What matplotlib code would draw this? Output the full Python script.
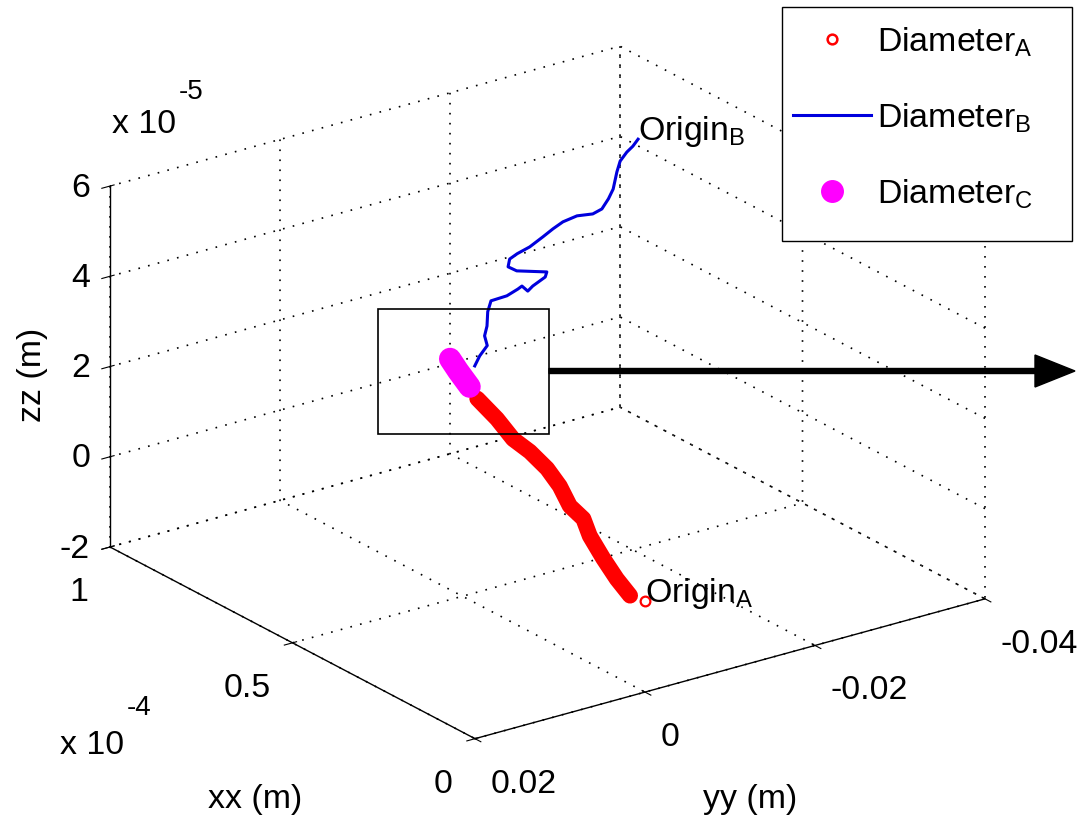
import numpy as np
import matplotlib
matplotlib.use('Agg')
import matplotlib.pyplot as plt
from matplotlib.lines import Line2D
from matplotlib.patches import Rectangle, FancyArrow
from matplotlib.transforms import IdentityTransform

plt.rcParams['font.family'] = ['Liberation Sans', 'DejaVu Sans']
plt.rcParams['mathtext.fontset'] = 'custom'
plt.rcParams['mathtext.rm'] = 'Liberation Sans'
plt.rcParams['mathtext.it'] = 'Liberation Sans:italic'
plt.rcParams['mathtext.bf'] = 'Liberation Sans:bold'
plt.rcParams['grid.color'] = 'k'
plt.rcParams['grid.linewidth'] = 1.2
plt.rcParams['grid.linestyle'] = (0, (1, 5))

# ---------------- data ----------------
# Diameter A (red markers), from Origin A to the junction
xa = np.array([0.00, 0.02, 0.04, 0.07, 0.10, 0.12, 0.15, 0.18, 0.21, 0.25, 0.28, 0.31, 0.35]) * 1e-4
ya = np.array([0.0000, 0.0009, 0.0016, 0.0019, 0.0022, 0.0021, 0.0024, 0.0023, 0.0025, 0.0028, 0.0035, 0.0041, 0.0047])
za = np.array([0.02, 0.10, 0.42, 0.76, 1.15, 1.44, 1.61, 1.92, 2.19, 2.41, 2.60, 2.95, 3.26]) * 1e-5

# Diameter B (blue line), from the junction to Origin B
xb = np.array([0.350, 0.355, 0.360, 0.365, 0.370, 0.375, 0.380, 0.390, 0.395, 0.400, 0.405,
               0.410, 0.420, 0.425, 0.440, 0.445, 0.450, 0.455, 0.465, 0.475, 0.485, 0.495,
               0.510, 0.525, 0.535, 0.545, 0.560, 0.580, 0.620, 0.660, 0.690, 0.720]) * 1e-4
yb = np.array([0.0050, 0.0042, 0.0031, 0.0032, 0.0027, 0.0024, 0.0018, -0.0005, -0.0020, -0.0027, -0.0036,
               -0.0044, -0.0063, -0.0067, -0.0038, -0.0030, -0.0034, -0.0045, -0.0064, -0.0084, -0.0100, -0.0116,
               -0.0139, -0.0164, -0.0179, -0.0191, -0.0203, -0.0216, -0.0237, -0.0262, -0.0282, -0.0301])
zb = np.array([4.00, 4.16, 4.31, 4.51, 4.68, 4.96, 5.15, 5.10, 5.15, 5.16, 4.98,
               5.03, 5.09, 5.16, 5.27, 5.38, 5.51, 5.55, 5.56, 5.64, 5.69, 5.72,
               5.67, 5.52, 5.51, 5.63, 5.72, 5.95, 5.91, 5.81, 5.71, 5.64]) * 1e-5

# Diameter C (magenta markers)
xc = np.array([0.350, 0.370, 0.385]) * 1e-4
yc = np.array([0.0056, 0.0061, 0.0064])
zc = np.array([3.57, 3.86, 4.08]) * 1e-5

x_ticks = [0, 0.5e-4, 1e-4]
x_ticklabels = ['0', '0.5', '1']
y_ticks = [-0.04, -0.02, 0, 0.02]
y_ticklabels = ['-0.04', '-0.02', '0', '0.02']
z_ticks = [-2e-5, 0, 2e-5, 4e-5, 6e-5]
z_ticklabels = ['-2', '0', '2', '4', '6']

labels = [r'Diameter$_\mathregular{A}$', r'Diameter$_\mathregular{B}$', r'Diameter$_\mathregular{C}$']

W, H = 1082, 829
FS = 24.4
FS_SUP = 20

fig = plt.figure(figsize=(W / 100, H / 100), dpi=100)
ax = fig.add_axes([0, 0, 1, 1], projection='3d', computed_zorder=False)
ax.set_proj_type('ortho')
ax.view_init(elev=22.3, azim=144.15)
ax.set_box_aspect((623, 629, 390))
XL, YL, ZL = (0, 1e-4), (-0.04, 0.02), (-2e-5, 6e-5)
ax.set_xlim(*XL)
ax.set_ylim(*YL)
ax.set_zlim(*ZL)
ax.set_xticks(x_ticks)
ax.set_xticklabels([''] * len(x_ticks))
ax.set_yticks(y_ticks)
ax.set_yticklabels([''] * len(y_ticks))
ax.set_zticks(z_ticks)
ax.set_zticklabels([''] * len(z_ticks))
ax.zaxis.set_ticks_position('upper')

for axis in (ax.xaxis, ax.yaxis, ax.zaxis):
    axis.pane.fill = False
    axis.pane.set_edgecolor('none')
    axis.line.set_color('k')
    axis.line.set_linewidth(1.0)
    axis._axinfo['grid'].update({'color': 'k', 'linewidth': 1.2, 'linestyle': (0, (1, 5))})

# red band of dense circle markers
ax.plot(xa[1:], ya[1:], za[1:], color='red', lw=11.5, solid_capstyle='round', solid_joinstyle='round', zorder=2)
ax.plot(xa[:1], ya[:1], za[:1], ls='none', marker='o', mfc='none', mec='red', ms=7, mew=1.6, zorder=2)
# blue line
ax.plot(xb, yb, zb, color='#0000dd', lw=2.2, zorder=3)
# magenta band
ax.plot(xc, yc, zc, color='magenta', lw=16, solid_capstyle='round', zorder=4)

ax.text(xa[0], ya[0], za[0], 'Origin$_\\mathregular{A}$', fontsize=FS, ha='left', va='baseline')
ax.text(xb[-1], yb[-1], zb[-1], 'Origin$_\\mathregular{B}$', fontsize=FS, ha='left', va='baseline')

# ---- place the 3D box so its corners land where the reference has them ----
fig.canvas.draw()

def to_disp(x, y, z):
    v = ax.M @ np.array([x, y, z, 1.0])
    return ax.transData.transform((v[0] / v[3], v[1] / v[3]))

pA = to_disp(XL[1], YL[1], ZL[0])
pC = to_disp(XL[0], YL[0], ZL[0])
tA = np.array([110.0, H - 548.0])
tC = np.array([985.0, H - 600.0])
bb = ax.get_position()
L = bb.width * W
fa = (pA - np.array([bb.x0 * W, bb.y0 * H])) / L
s = (tC[0] - tA[0]) / (pC[0] - pA[0])
L2 = L * s
x0 = tA[0] - fa[0] * L2
y0 = tA[1] - fa[1] * L2
ax.set_position([x0 / W, y0 / H, L2 / W, L2 / H])
fig.canvas.draw()

# tick labels, placed MATLAB-style next to the projected tick positions (pixel offsets)
ident = IdentityTransform()
for t, s_ in zip(z_ticks, z_ticklabels):
    p = to_disp(XL[1], YL[1], t)
    fig.text(p[0] - 20, p[1] - 1, s_, fontsize=FS, ha='right', va='center', transform=ident)
for t, s_ in zip(x_ticks, x_ticklabels):
    p = to_disp(t, YL[1], ZL[0])
    fig.text(p[0] - 22, p[1] - 29, s_, fontsize=FS, ha='right', va='top', transform=ident)
for t, s_ in zip(y_ticks, y_ticklabels):
    p = to_disp(XL[0], t, ZL[0])
    fig.text(p[0] + 16, p[1] - 29, s_, fontsize=FS, ha='left', va='top', transform=ident)

# axis labels and exponent texts
fig.text(32 / W, 1 - 375 / H, 'zz (m)', rotation=90, fontsize=FS, ha='center', va='center')
fig.text(255 / W, 1 - 800 / H, 'xx (m)', fontsize=FS, ha='center', va='center')
fig.text(750 / W, 1 - 800 / H, 'yy (m)', fontsize=FS, ha='center', va='center')
fig.text(112 / W, 1 - 133 / H, 'x 10', fontsize=FS, ha='left', va='baseline')
fig.text(179 / W, 1 - 99 / H, '-5', fontsize=FS_SUP, ha='left', va='baseline')
fig.text(60 / W, 1 - 754 / H, 'x 10', fontsize=FS, ha='left', va='baseline')
fig.text(127 / W, 1 - 715 / H, '-4', fontsize=FS_SUP, ha='left', va='baseline')

# zoom box, arrow and legend box (figure pixel overlay)
ov = fig.add_axes([0, 0, 1, 1], facecolor='none')
ov.set_xlim(0, W)
ov.set_ylim(H, 0)
ov.axis('off')
ov.add_patch(Rectangle((378, 310), 171, 125, fill=False, ec='k', lw=1.2))
ov.add_patch(FancyArrow(549, 372, 526, 0, width=5, head_width=32, head_length=40,
                        length_includes_head=True, color='k'))
ov.add_patch(Rectangle((782, 8), 290, 234, fc='white', ec='k', lw=1.0))

# legend (frame drawn above)
handles = [Line2D([], [], ls='none', marker='o', mfc='none', mec='red', ms=7, mew=1.8),
           Line2D([], [], color='#0000dd', lw=2.2),
           Line2D([], [], ls='none', marker='o', color='magenta', ms=15.5)]
leg = fig.legend(handles, labels, loc='upper left', bbox_to_anchor=(793 / W, 1 - 26 / H),
                 borderaxespad=0, frameon=False, fontsize=FS, handlelength=2.3,
                 handletextpad=0.18, labelspacing=1.25, borderpad=0)
leg.set_zorder(10)

fig.savefig('out.png', dpi=100)
